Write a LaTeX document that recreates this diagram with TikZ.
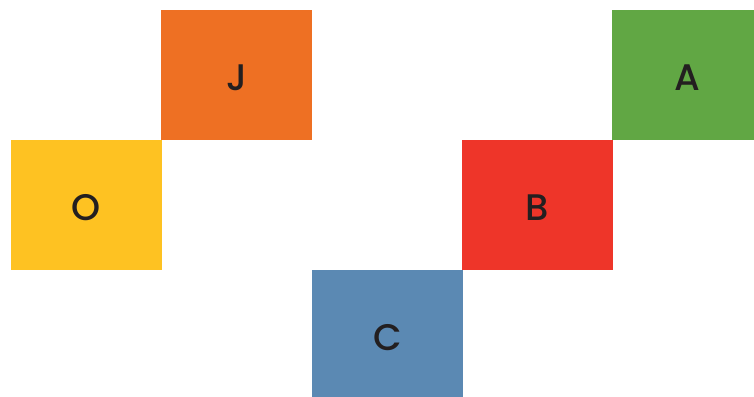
\documentclass[tikz,border=0pt]{standalone}
\usepackage{fontspec}
\setmainfont{Poppins}[BoldFont={* Medium}]
\usepackage{tikz,xcolor}

\definecolor{jorange}{HTML}{EE7023}
\definecolor{agreen}{HTML}{61A744}
\definecolor{oyellow}{HTML}{FEC222}
\definecolor{bred}{HTML}{EE3529}
\definecolor{cblue}{HTML}{5B89B3}
\definecolor{letter}{HTML}{231F20}

\tikzset{
  tile/.style={rectangle, inner sep=0, minimum width=151pt, minimum height=130pt,
    text=letter, text height=30pt, text depth=0pt,
    font=\fontsize{37}{40}\selectfont\bfseries}
}

\begin{document}
\begin{tikzpicture}[x=1pt, y=-1pt]

\useasboundingbox (0,0) rectangle (754,396);

% 定义方块
\node[tile, fill=jorange] (J) at (236.5, 75) {J};
\node[tile, fill=oyellow] (O) at (86.5, 205) {O};
\node[tile, fill=bred]    (B) at (537.5, 205) {B};
\node[tile, fill=agreen]  (A) at (687.5, 75) {A};
\node[tile, fill=cblue]   (C) at (387.5, 335) {C};

\end{tikzpicture}
\end{document}
